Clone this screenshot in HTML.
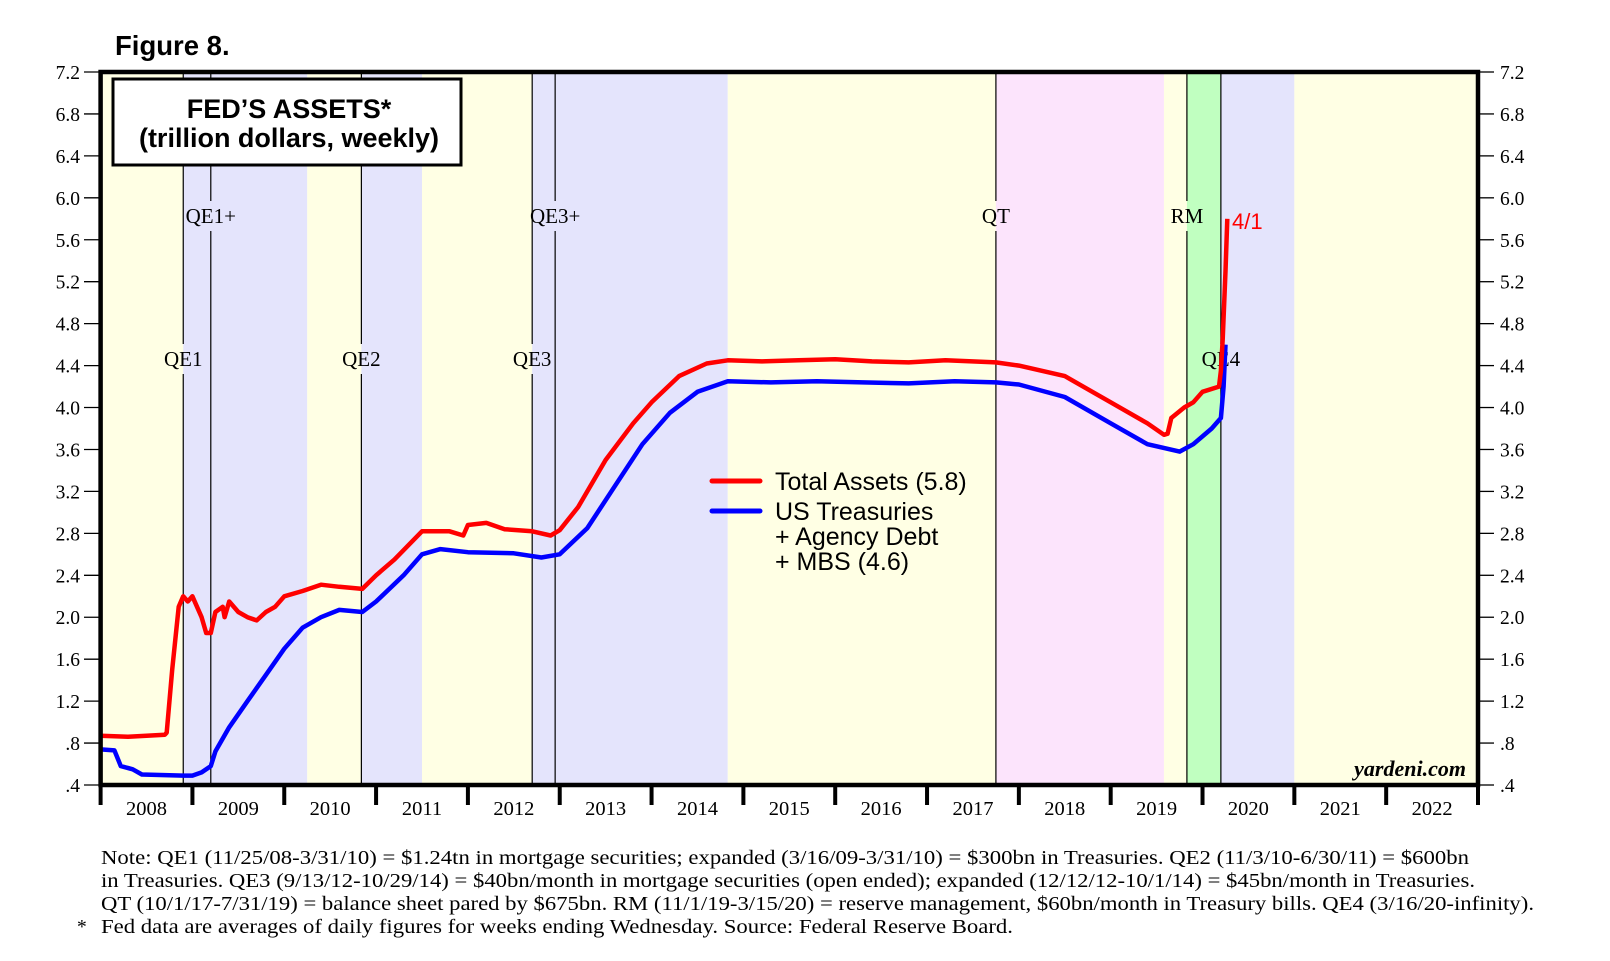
<!DOCTYPE html>
<html><head><meta charset="utf-8"><style>
html,body{margin:0;padding:0;background:#fff;}
svg{display:block;}
</style></head><body>
<svg id="chart" width="1610" height="961" viewBox="0 0 1610 961" xmlns="http://www.w3.org/2000/svg">
<text x="115" y="55" font-family="Liberation Sans, sans-serif" font-weight="bold" font-size="27.5">Figure 8.</text>
<g id="bands"></g>
<g id="vlines"></g>
<g id="series"></g>
<g id="axes"></g>
<g>
<rect x="113" y="79" width="348" height="86" fill="#fff" stroke="#000" stroke-width="3"/>
<text x="289" y="118" text-anchor="middle" font-family="Liberation Sans, sans-serif" font-weight="bold" font-size="27">FED’S ASSETS*</text>
<text x="289" y="147" text-anchor="middle" font-family="Liberation Sans, sans-serif" font-weight="bold" font-size="27">(trillion dollars, weekly)</text>
</g>
<g font-family="Liberation Sans, sans-serif" font-size="25">
<line x1="712" y1="481" x2="760" y2="481" stroke="#ff0000" stroke-width="5" stroke-linecap="round"/>
<text x="775" y="490">Total Assets (5.8)</text>
<line x1="712" y1="511" x2="760" y2="511" stroke="#0000ff" stroke-width="5" stroke-linecap="round"/>
<text x="775" y="520">US Treasuries</text>
<text x="775" y="545">+ Agency Debt</text>
<text x="775" y="570">+ MBS (4.6)</text>
</g>
<text x="1232" y="229" fill="#ff0000" font-family="Liberation Sans, sans-serif" font-size="22">4/1</text>
<text x="1466" y="776" text-anchor="end" font-family="Liberation Serif, serif" font-style="italic" font-weight="bold" font-size="22">yardeni.com</text>
<g font-family="Liberation Serif, serif" font-size="19.5">
<text x="101" y="864" textLength="1368" lengthAdjust="spacingAndGlyphs">Note: QE1 (11/25/08-3/31/10) = $1.24tn in mortgage securities; expanded (3/16/09-3/31/10) = $300bn in Treasuries. QE2 (11/3/10-6/30/11) = $600bn</text>
<text x="101" y="887" textLength="1374" lengthAdjust="spacingAndGlyphs">in Treasuries. QE3 (9/13/12-10/29/14) = $40bn/month in mortgage securities (open ended); expanded (12/12/12-10/1/14) = $45bn/month in Treasuries.</text>
<text x="101" y="910" textLength="1433" lengthAdjust="spacingAndGlyphs">QT (10/1/17-7/31/19) = balance sheet pared by $675bn. RM (11/1/19-3/15/20) = reserve management, $60bn/month in Treasury bills. QE4 (3/16/20-infinity).</text>
<text x="77" y="933">*</text>
<text x="101" y="933" textLength="912" lengthAdjust="spacingAndGlyphs">Fed data are averages of daily figures for weeks ending Wednesday. Source: Federal Reserve Board.</text>
</g>
</svg>
<script>
const yTicks = [0.4,0.8,1.2,1.6,2.0,2.4,2.8,3.2,3.6,4.0,4.4,4.8,5.2,5.6,6.0,6.4,6.8,7.2];
const yTickLabels = [".4",".8","1.2","1.6","2.0","2.4","2.8","3.2","3.6","4.0","4.4","4.8","5.2","5.6","6.0","6.4","6.8","7.2"];
const years = [2008,2009,2010,2011,2012,2013,2014,2015,2016,2017,2018,2019,2020,2021,2022];
const bandStarts = [2008.0,2008.9,2010.25,2010.84,2011.5,2012.7,2014.83,2017.75,2019.58,2019.83,2020.2,2021.0];
const bandEnds   = [2008.9,2010.25,2010.84,2011.5,2012.7,2014.83,2017.75,2019.58,2019.83,2020.2,2021.0,2023.0];
const bandColors = ["#ffffe4","#e4e4fc","#ffffe4","#e4e4fc","#ffffe4","#e4e4fc","#ffffe4","#fce4fc","#ffffe4","#c0ffc0","#e4e4fc","#ffffe4"];
const eventDates = [2008.9,2009.2,2010.84,2012.7,2012.95,2017.75,2019.83,2020.2];
const eventLabels = ["QE1","QE1+","QE2","QE3","QE3+","QT","RM","QE4"];
const eventRows = [1,0,1,1,0,0,0,1];
const totalDates = [2008.0,2008.3,2008.7,2008.72,2008.78,2008.85,2008.9,2008.95,2009.0,2009.1,2009.15,2009.2,2009.25,2009.33,2009.35,2009.4,2009.5,2009.6,2009.7,2009.8,2009.9,2010.0,2010.2,2010.4,2010.6,2010.85,2011.0,2011.2,2011.5,2011.8,2011.95,2012.0,2012.2,2012.4,2012.7,2012.9,2013.0,2013.2,2013.5,2013.8,2014.0,2014.3,2014.6,2014.83,2015.2,2015.6,2016.0,2016.4,2016.8,2017.2,2017.75,2018.0,2018.5,2019.0,2019.4,2019.58,2019.62,2019.66,2019.8,2019.9,2020.0,2020.18,2020.2,2020.22,2020.25,2020.27];
const totalValues = [0.87,0.86,0.88,0.9,1.5,2.1,2.2,2.15,2.2,2.0,1.85,1.85,2.05,2.1,2.0,2.15,2.05,2.0,1.97,2.05,2.1,2.2,2.25,2.31,2.29,2.27,2.4,2.55,2.82,2.82,2.78,2.88,2.9,2.84,2.82,2.78,2.83,3.05,3.5,3.85,4.05,4.3,4.42,4.45,4.44,4.45,4.46,4.44,4.43,4.45,4.43,4.4,4.3,4.05,3.85,3.74,3.75,3.9,4.0,4.05,4.15,4.2,4.35,4.65,5.3,5.8];
const treasDates = [2008.0,2008.15,2008.22,2008.35,2008.45,2008.9,2009.0,2009.1,2009.2,2009.25,2009.4,2009.6,2009.8,2010.0,2010.2,2010.4,2010.6,2010.85,2011.0,2011.3,2011.5,2011.7,2012.0,2012.5,2012.8,2013.0,2013.3,2013.6,2013.9,2014.2,2014.5,2014.83,2015.3,2015.8,2016.3,2016.8,2017.3,2017.75,2018.0,2018.5,2019.0,2019.4,2019.75,2019.9,2020.1,2020.2,2020.23,2020.25];
const treasValues = [0.74,0.73,0.58,0.55,0.5,0.49,0.49,0.52,0.58,0.72,0.95,1.2,1.45,1.7,1.9,2.0,2.07,2.05,2.15,2.4,2.6,2.65,2.62,2.61,2.57,2.6,2.85,3.25,3.65,3.95,4.15,4.25,4.24,4.25,4.24,4.23,4.25,4.24,4.22,4.1,3.85,3.65,3.58,3.65,3.8,3.9,4.2,4.6];

const L=100.6,R=1478,T=72,B=785;
const X = t => L + (t-2008)*(R-L)/15;
const Y = v => B - (v-0.4)*(B-T)/6.8;
const NS="http://www.w3.org/2000/svg";
function mk(tag, parent, attrs){const e=document.createElementNS(NS,tag);for(const k in attrs)e.setAttribute(k,attrs[k]);parent.appendChild(e);return e;}
const bands=document.getElementById('bands'), vl=document.getElementById('vlines'), ser=document.getElementById('series'), ax=document.getElementById('axes');
bandStarts.forEach((s,i)=>{
  const r=mk('rect',bands,{x:X(s),y:T,width:X(bandEnds[i])-X(s),height:B-T,fill:bandColors[i]});
  
  
});
eventDates.forEach((d,i)=>{
  const x=X(d), ly = eventRows[i]===0 ? 216 : 359;
  const l1=mk('line',vl,{x1:x,y1:T,x2:x,y2:ly-15,stroke:'#000','stroke-width':1.2});
  
  
  mk('line',vl,{x1:x,y1:ly+15,x2:x,y2:B,stroke:'#000','stroke-width':1.2});
  const t=mk('text',vl,{x:x,y:ly+7,'text-anchor':'middle','font-family':'Liberation Serif, serif','font-size':21});
  t.textContent=eventLabels[i];
  
  
});
function line(dates,vals,color,name){
  const p=mk('polyline',ser,{points:dates.map((d,i)=>X(d).toFixed(1)+','+Y(vals[i]).toFixed(1)).join(' '),fill:'none',stroke:color,'stroke-width':4.5,'stroke-linejoin':'round'});
  
  
}
line(treasDates,treasValues,'#0000ff','treasuries-line');
line(totalDates,totalValues,'#ff0000','total-assets-line');
const fr=mk('rect',ax,{x:L,y:T,width:R-L,height:B-T,fill:'none',stroke:'#000','stroke-width':4.5});


yTicks.forEach((v,i)=>{
  const y=Y(v);
  mk('line',ax,{x1:84,y1:y,x2:L,y2:y,stroke:'#000','stroke-width':1.3});
  mk('line',ax,{x1:R,y1:y,x2:1494,y2:y,stroke:'#000','stroke-width':1.3});
  const a=mk('text',ax,{x:80,y:y+7,'text-anchor':'end','font-family':'Liberation Serif, serif','font-size':19.5});
  a.textContent=yTickLabels[i];
  
  
  const b=mk('text',ax,{x:1500,y:y+7,'font-family':'Liberation Serif, serif','font-size':19.5});
  b.textContent=yTickLabels[i];
  
  
});
years.concat([2023]).forEach(yr=>{
  mk('line',ax,{x1:X(yr),y1:B,x2:X(yr),y2:805,stroke:'#000','stroke-width':4});
});
years.forEach(yr=>{
  const t=mk('text',ax,{x:X(yr+0.5),y:815,'text-anchor':'middle','font-family':'Liberation Serif, serif','font-size':20.5});
  t.textContent=String(yr);
  
  
});
</script>
</body></html>
